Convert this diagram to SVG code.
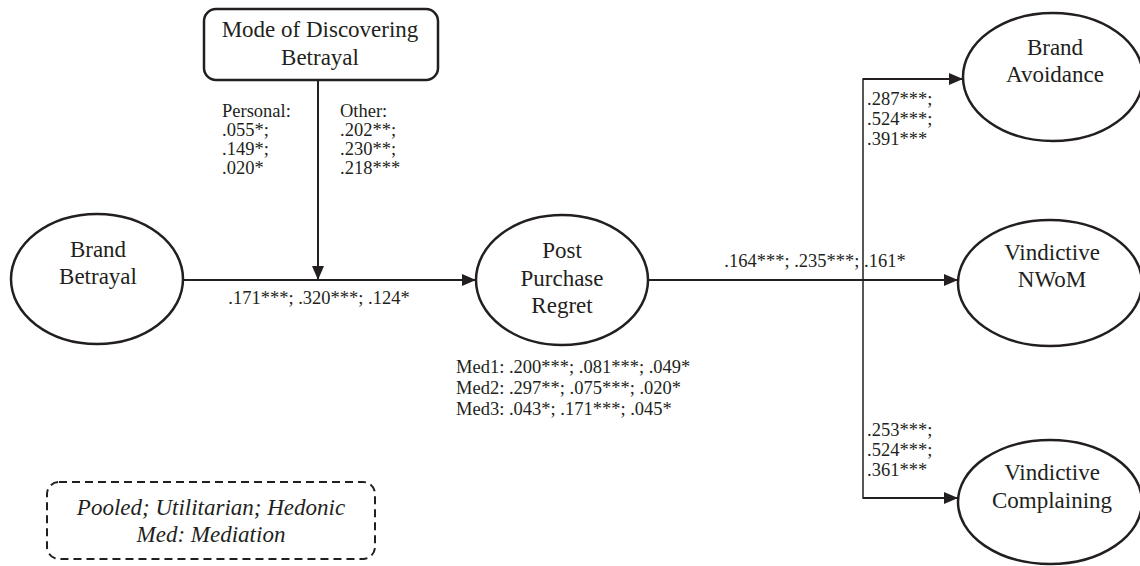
<svg xmlns="http://www.w3.org/2000/svg" width="1140" height="566" viewBox="0 0 1140 566">
<style>
.node{fill:#fff;stroke:#231f20;stroke-width:2.5}
text{font-family:'Liberation Serif','DejaVu Serif',serif;fill:#231f20}
.big{font-size:23px;text-anchor:middle}
.lab{font-size:18.5px}
.conn{fill:none;stroke:#231f20;stroke-width:2}
.thin{fill:none;stroke:#231f20;stroke-width:1.5}
</style>
<defs>
<marker id="ah" markerWidth="14" markerHeight="12" refX="14" refY="6" orient="auto" markerUnits="userSpaceOnUse">
<path d="M0,0 L14,6 L0,12 Z" fill="#231f20"/>
</marker>
</defs>
<rect width="1140" height="566" fill="#fff"/>
<g id="connectors">
<line class="conn" x1="183" y1="280" x2="476" y2="280" marker-end="url(#ah)"/>
<line class="conn" x1="318" y1="80" x2="318" y2="280" marker-end="url(#ah)"/>
<line class="conn" x1="648" y1="280" x2="958" y2="280" marker-end="url(#ah)"/>
<polyline class="thin" points="963,79 863,79 863,498 958,498"/>
<line class="conn" x1="863" y1="79" x2="963" y2="79" marker-end="url(#ah)"/>
<line class="conn" x1="863" y1="498" x2="958" y2="498" marker-end="url(#ah)"/>
</g>
<g id="mode">
<rect class="node" x="204" y="9" width="234" height="71" rx="12"/>
<text class="big" x="320" y="37">Mode of Discovering</text>
<text class="big" x="320" y="65">Betrayal</text>
</g>
<g id="brand-betrayal">
<ellipse class="node" cx="97" cy="279" rx="86" ry="65"/>
<text class="big" x="98" y="257">Brand</text>
<text class="big" x="98" y="284">Betrayal</text>
</g>
<g id="post-purchase-regret">
<ellipse class="node" cx="562" cy="280" rx="86" ry="65"/>
<text class="big" x="562" y="258">Post</text>
<text class="big" x="562" y="286">Purchase</text>
<text class="big" x="562" y="313">Regret</text>
</g>
<g id="brand-avoidance">
<ellipse class="node" cx="1053" cy="77" rx="90" ry="64"/>
<text class="big" x="1055" y="55">Brand</text>
<text class="big" x="1055" y="82">Avoidance</text>
</g>
<g id="vindictive-nwom">
<ellipse class="node" cx="1050" cy="283" rx="92" ry="63"/>
<text class="big" x="1052" y="260">Vindictive</text>
<text class="big" x="1052" y="287">NWoM</text>
</g>
<g id="vindictive-complaining">
<ellipse class="node" cx="1050" cy="502" rx="92" ry="62"/>
<text class="big" x="1052" y="480">Vindictive</text>
<text class="big" x="1052" y="508">Complaining</text>
</g>
<g id="labels">
<text class="lab" x="222" y="117">Personal:</text>
<text class="lab" x="222" y="136">.055*;</text>
<text class="lab" x="222" y="155">.149*;</text>
<text class="lab" x="222" y="174">.020*</text>
<text class="lab" x="340" y="117">Other:</text>
<text class="lab" x="340" y="136">.202**;</text>
<text class="lab" x="340" y="155">.230**;</text>
<text class="lab" x="340" y="174">.218***</text>
<text class="lab" x="319" y="304" text-anchor="middle">.171***; .320***; .124*</text>
<text class="lab" x="815" y="267" text-anchor="middle">.164***; .235***; .161*</text>
<text class="lab" x="456" y="373">Med1: .200***; .081***; .049*</text>
<text class="lab" x="456" y="394">Med2: .297**; .075***; .020*</text>
<text class="lab" x="456" y="415">Med3: .043*; .171***; .045*</text>
<text class="lab" x="867" y="105">.287***;</text>
<text class="lab" x="867" y="125">.524***;</text>
<text class="lab" x="867" y="145">.391***</text>
<text class="lab" x="867" y="436">.253***;</text>
<text class="lab" x="867" y="456">.524***;</text>
<text class="lab" x="867" y="476">.361***</text>
</g>
<g id="legend">
<rect x="47" y="482" width="328" height="77" rx="12" fill="none" stroke="#231f20" stroke-width="2" stroke-dasharray="8,5"/>
<text class="big" x="211" y="515" font-style="italic">Pooled; Utilitarian; Hedonic</text>
<text class="big" x="211" y="542" font-style="italic">Med: Mediation</text>
</g>
</svg>
